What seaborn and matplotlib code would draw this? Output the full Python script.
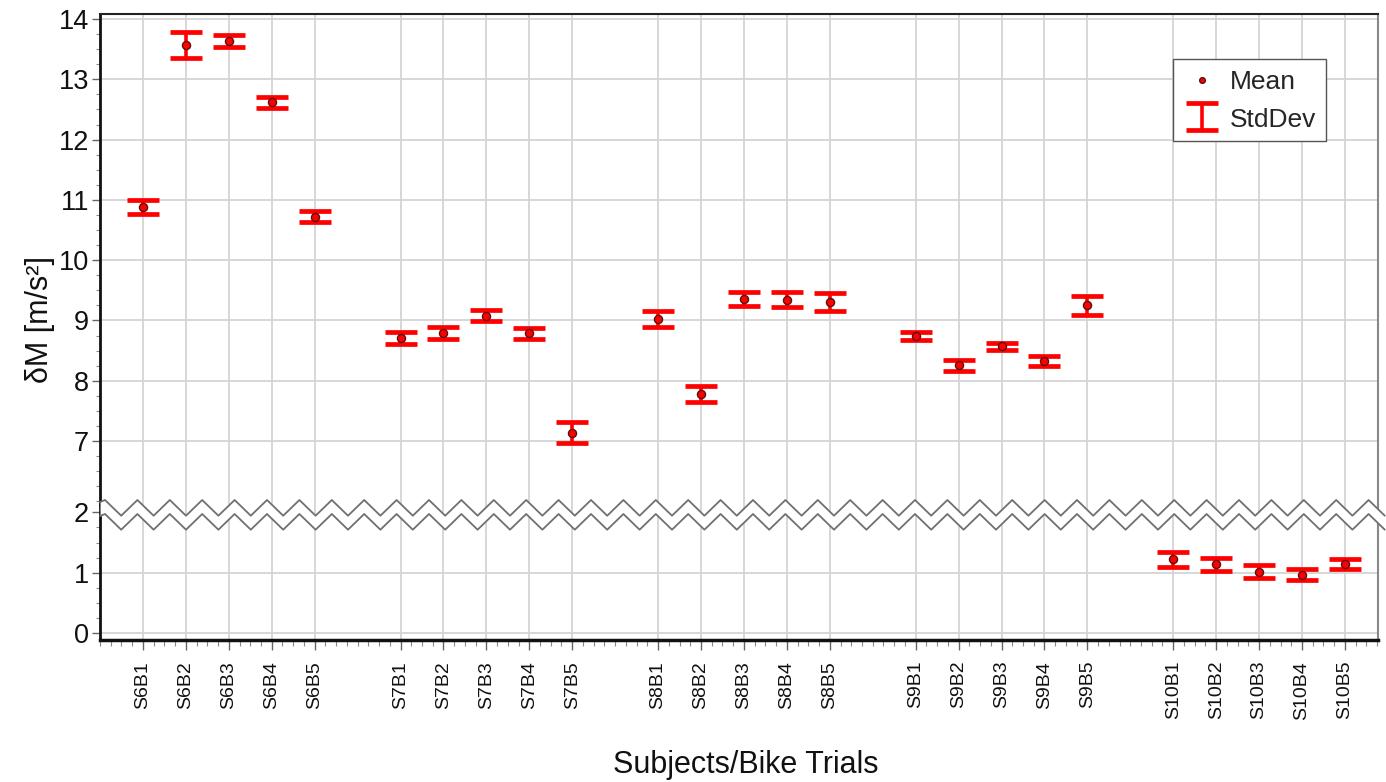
import numpy as np
import pandas as pd
import matplotlib
matplotlib.use("Agg")
import matplotlib.pyplot as plt
import seaborn as sns
from matplotlib.ticker import MultipleLocator, FixedLocator

# ---------------- data ----------------
subjects = ["S6", "S7", "S8", "S9", "S10"]
bikes = ["B1", "B2", "B3", "B4", "B5"]

mean_S6 = [10.88, 13.57, 13.635, 12.62, 10.72]
std_S6 = [0.11, 0.22, 0.105, 0.09, 0.09]
mean_S7 = [8.705, 8.79, 9.08, 8.79, 7.14]
std_S7 = [0.10, 0.105, 0.09, 0.09, 0.17]
mean_S8 = [9.02, 7.78, 9.36, 9.345, 9.31]
std_S8 = [0.135, 0.135, 0.12, 0.12, 0.15]
mean_S9 = [8.74, 8.26, 8.57, 8.33, 9.25]
std_S9 = [0.07, 0.09, 0.06, 0.08, 0.155]
mean_S10 = [1.22, 1.14, 1.02, 0.97, 1.15]
std_S10 = [0.12, 0.11, 0.105, 0.09, 0.085]

means = [mean_S6, mean_S7, mean_S8, mean_S9, mean_S10]
stds = [std_S6, std_S7, std_S8, std_S9, std_S10]

rows = []
for g, subj in enumerate(subjects):
    for i, b in enumerate(bikes):
        rows.append({"label": subj + b, "pos": g * 6 + i,
                     "mean": means[g][i], "std": stds[g][i]})
df = pd.DataFrame(rows)

# ---------------- style ----------------
sns.set_theme(style="white")
plt.rcParams["font.family"] = ["Liberation Sans", "DejaVu Sans"]

W, H = 1386, 782
fig = plt.figure(figsize=(W / 100, H / 100), dpi=100)

def px_rect(x0, y0, x1, y1):
    return [x0 / W, 1 - y1 / H, (x1 - x0) / W, (y1 - y0) / H]

ax_top = fig.add_axes(px_rect(100, 14, 1378, 505))
ax_bot = fig.add_axes(px_rect(100, 505, 1378, 640))

RED = "#ff0000"
GRID = "#d4d4d4"

for ax in (ax_top, ax_bot):
    ax.errorbar(df["pos"], df["mean"], yerr=df["std"], fmt="none",
                ecolor=RED, elinewidth=2.6, capsize=11.5, capthick=3.4,
                zorder=3, label="StdDev")
    sns.scatterplot(data=df, x="pos", y="mean", ax=ax, color=RED, s=34,
                    edgecolor="#5a1010", linewidth=1.0, zorder=4, label="Mean",
                    legend=False)
    ax.set_xlim(-1, 28.77)
    ax.set_xlabel("")
    ax.set_ylabel("")
    ax.xaxis.set_major_locator(FixedLocator(df["pos"].tolist()))
    ax.xaxis.set_minor_locator(MultipleLocator(0.25))
    ax.yaxis.set_minor_locator(MultipleLocator(0.25))
    ax.grid(True, which="major", color=GRID, linewidth=1.3)
    ax.set_axisbelow(True)
    ax.tick_params(axis="y", which="major", left=True, length=6, width=1,
                   color="#666666", labelsize=19.5, pad=2, labelcolor="#111111")
    ax.tick_params(axis="y", which="minor", left=True, length=3, width=0.8,
                   color="#888888")
    ax.spines["left"].set_color("#111111")
    ax.spines["left"].set_linewidth(2)
    ax.spines["right"].set_color("#888888")
    ax.spines["right"].set_linewidth(1.5)

# top part
ax_top.set_ylim(5.94, 14.083)
ax_top.set_yticks(np.arange(7, 15, 1))
ax_top.tick_params(axis="x", which="both", bottom=False, labelbottom=False)
ax_top.spines["bottom"].set_visible(False)
ax_top.spines["top"].set_color("#222222")
ax_top.spines["top"].set_linewidth(1.5)

# bottom part
ax_bot.set_ylim(-0.116, 2.123)
ax_bot.set_yticks([0, 1, 2])
ax_bot.get_ygridlines()[2].set_visible(False)
ax_bot.spines["top"].set_visible(False)
ax_bot.spines["bottom"].set_color("#111111")
ax_bot.spines["bottom"].set_linewidth(2.5)
ax_bot.set_xticks(df["pos"].tolist())
ax_bot.set_xticklabels(df["label"].tolist(), rotation=90, fontsize=14,
                       color="#111111")
ax_bot.tick_params(axis="x", which="major", bottom=True, length=7, width=1,
                   color="#666666", pad=8)
ax_bot.tick_params(axis="x", which="minor", bottom=True, length=4, width=0.8,
                   color="#888888")

# break zigzag overlay
ax_z = fig.add_axes(px_rect(0, 490, W, 535), zorder=10)
ax_z.set_xlim(0, W)
ax_z.set_ylim(535, 490)
ax_z.axis("off")
ax_z.patch.set_alpha(0)
zx = np.arange(105, 1395, 16.2)
zy_up = np.where(np.arange(len(zx)) % 2 == 0, 500.0, 515.7)
zx = np.concatenate([[100], zx])
zy_up = np.concatenate([[502], zy_up])
zy_lo = zy_up + 14
ax_z.fill_between(zx, zy_up, zy_lo, color="white", linewidth=0)
ax_z.plot(zx, zy_up, color="#707070", lw=1.3)
ax_z.plot(zx, zy_lo, color="#707070", lw=1.3)
ax_z.set_xlim(0, W)

# legend
h_mean = ax_top.collections[-1]
h_err = ax_top.containers[0]
leg = ax_top.legend([h_mean, h_err], ["Mean", "StdDev"], loc="upper right",
                    bbox_to_anchor=(0.959, 0.908), borderaxespad=0,
                    fontsize=19, frameon=True, fancybox=False, framealpha=1,
                    edgecolor="#555555", handlelength=1.45, handleheight=1.0,
                    handletextpad=0.35, borderpad=0.35, labelspacing=0.45,
                    markerscale=0.7)
leg.get_frame().set_linewidth(1.0)

# axis labels
fig.text(746 / W, 1 - 765 / H, "Subjects/Bike Trials", ha="center",
         va="center", fontsize=22, color="#111111")
fig.text(40 / W, 1 - 320 / H, "δM [m/s²]", ha="center", va="center",
         rotation=90, fontsize=22, color="#111111")

fig.savefig("out.png", dpi=100)
